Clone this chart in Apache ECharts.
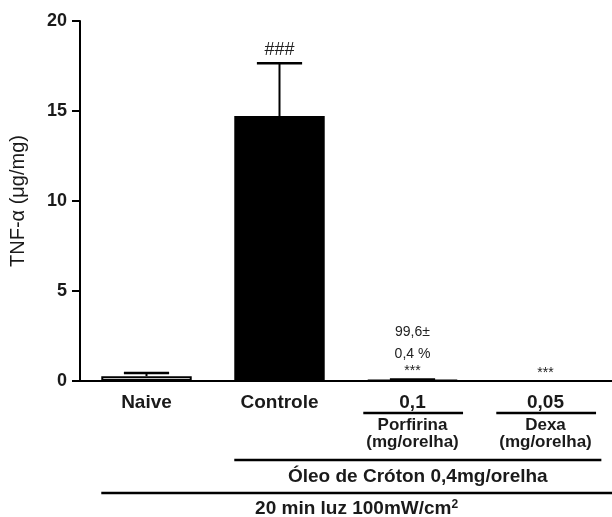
<!DOCTYPE html>
<html><head><meta charset="utf-8">
<script src="https://cdn.jsdelivr.net/npm/echarts@6/dist/echarts.min.js"></script>
<style>html,body{margin:0;padding:0;background:#fff}#c{width:612px;height:517px}</style>
</head><body><div id="c"></div>
<script>
// ---- data ----
const categories = ['Naive', 'Controle', 'Porfirina', 'Dexa'];
const catLabels = ['Naive', 'Controle', '0,1', '0,05'];
const subLabels = ['', '', 'Porfirina', 'Dexa'];
const unitLabels = ['', '', '(mg/orelha)', '(mg/orelha)'];
const means = [0.27, 14.72, 0.05, 0];
const errors = [0.18, 2.93, 0.03, 0];
const barColors = ['#ffffff', '#000000', '#000000', '#000000'];
const annotations = [[], ['###'], ['99,6±', '0,4 %', '***'], ['***']];
const yTicks = [0, 5, 10, 15, 20];
const groupLabel1 = 'Óleo de Cróton 0,4mg/orelha';
const groupLabel2 = '20 min luz 100mW/cm';
const groupLabel2Sup = '2';
const yName = 'TNF-α (μg/mg)';

// ---- chart ----
const FONT = 'Liberation Sans, Arial, sans-serif';
const TXT = '#1a1a1a';
const chart = echarts.init(document.getElementById('c'), null, {renderer: 'canvas'});

const errData = categories.map((c, i) => [i, means[i], errors[i]]);

const option = {
  animation: false,
  backgroundColor: '#fff',
  grid: {left: 76, right: -8, top: 21, bottom: 136, containLabel: false},
  xAxis: {
    type: 'category',
    data: categories,
    axisLine: {show: true, lineStyle: {color: '#000', width: 2}},
    axisTick: {show: false},
    axisLabel: {
      margin: 12,
      interval: 0,
      formatter: (v, i) => {
        if (!subLabels[i]) return '{a|' + catLabels[i] + '}';
        return '{a|' + catLabels[i] + '}\n{p|' + subLabels[i] + '}\n{m|' + unitLabels[i] + '}';
      },
      rich: {
        a: {fontFamily: FONT, fontWeight: 'bold', fontSize: 19, color: TXT, lineHeight: 20},
        p: {fontFamily: FONT, fontWeight: 'bold', fontSize: 17, color: TXT, lineHeight: 24, padding: [0, 0, 0, 0]},
        m: {fontFamily: FONT, fontWeight: 'bold', fontSize: 17, color: TXT, lineHeight: 10}
      }
    },
    splitLine: {show: false}
  },
  yAxis: {
    type: 'value',
    min: 0, max: 20, interval: 5,
    name: yName,
    nameLocation: 'middle',
    nameGap: 52,
    nameTextStyle: {fontFamily: FONT, fontSize: 20, color: TXT},
    axisLine: {show: true, lineStyle: {color: '#000', width: 2}},
    axisTick: {show: true, length: 8, lineStyle: {color: '#000', width: 2}},
    axisLabel: {
      margin: 13, fontFamily: FONT, fontWeight: 'bold', fontSize: 18, color: TXT,
      formatter: v => (yTicks.indexOf(v) >= 0 ? String(v) : '')
    },
    splitLine: {show: false}
  },
  series: [
    {
      type: 'bar',
      barCategoryGap: '32%',
      data: means.map((m, i) => ({value: m, itemStyle: {color: barColors[i], borderColor: '#000', borderWidth: 2}})),
      z: 2
    },
    {
      type: 'custom',
      data: errData,
      z: 3,
      renderItem: (params, api) => {
        const i = api.value(0), m = api.value(1), e = api.value(2);
        const band = api.size([1, 0])[0];
        const bw = band * 0.68;
        const base = api.coord([i, m]);
        const top = api.coord([i, m + e]);
        const x = base[0];
        const children = [];
        if (e > 0) {
          children.push({type: 'line', shape: {x1: x, y1: base[1], x2: x, y2: top[1]}, style: {stroke: '#000', lineWidth: 2}});
          children.push({type: 'line', shape: {x1: x - bw * 0.25, y1: top[1], x2: x + bw * 0.25, y2: top[1]}, style: {stroke: '#000', lineWidth: 2.5}});
        }
        const ann = annotations[i];
        const big = ann.length === 1 && ann[0] === '###';
        let y = top[1] - (big ? 4 : 1);
        for (let k = ann.length - 1; k >= 0; k--) {
          children.push({
            type: 'text',
            style: {
              text: ann[k], x: x, y: y, align: 'center', verticalAlign: 'bottom',
              fontFamily: FONT, fontSize: big ? 18 : 14, fill: '#222'
            }
          });
          y -= (k === ann.length - 1) ? 17 : 22;
        }
        return {type: 'group', children: children};
      }
    }
  ]
};
chart.setOption(option);

// bracket lines and group labels, positioned from the category scale
const px = i => chart.convertToPixel({xAxisIndex: 0}, categories[i]);
const bandW = px(1) - px(0);
const barW = bandW * 0.68;
const yPix = v => chart.convertToPixel({yAxisIndex: 0}, v);
const y0 = yPix(0);
const graphics = [];
[2, 3].forEach(i => {
  graphics.push({type: 'line', shape: {x1: px(i) - bandW * 0.37, y1: y0 + 32, x2: px(i) + bandW * 0.38, y2: y0 + 32}, style: {stroke: '#000', lineWidth: 2.5}});
});
const l1x1 = px(1) - barW / 2, l1x2 = px(3) + bandW * 0.42;
graphics.push({type: 'line', shape: {x1: l1x1, y1: y0 + 79, x2: l1x2, y2: y0 + 79}, style: {stroke: '#000', lineWidth: 2.5}});
graphics.push({type: 'text', style: {text: groupLabel1, x: (l1x1 + l1x2) / 2, y: y0 + 96, align: 'center', verticalAlign: 'middle', fontFamily: FONT, fontWeight: 'bold', fontSize: 19, fill: TXT}});
const l2x1 = px(0) - barW / 2, l2x2 = 612;
graphics.push({type: 'line', shape: {x1: l2x1, y1: y0 + 112, x2: l2x2, y2: y0 + 112}, style: {stroke: '#000', lineWidth: 2.5}});
graphics.push({type: 'text', style: {
  text: '{n|' + groupLabel2 + '}{s|' + groupLabel2Sup + '}',
  x: (l2x1 + l2x2) / 2, y: y0 + 128, align: 'center', verticalAlign: 'middle',
  rich: {
    n: {fontFamily: FONT, fontWeight: 'bold', fontSize: 19, fill: TXT, color: TXT, lineHeight: 20},
    s: {fontFamily: FONT, fontWeight: 'bold', fontSize: 12, fill: TXT, color: TXT, lineHeight: 20, verticalAlign: 'top', padding: [0, 0, 8, 0]}
  }
}});
chart.setOption({graphic: graphics});
</script>
</body></html>
